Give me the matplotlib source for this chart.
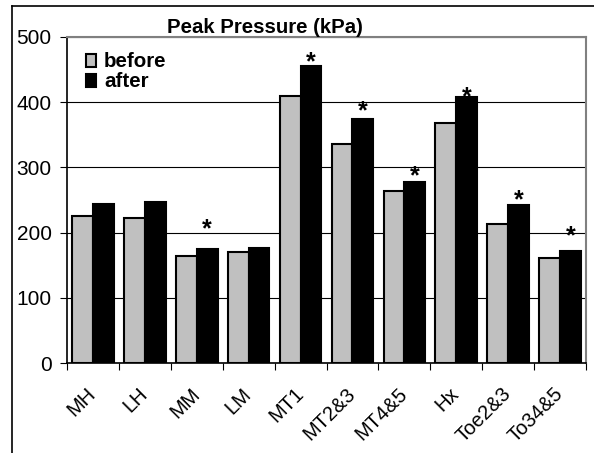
import numpy as np
import matplotlib
matplotlib.use("Agg")
import matplotlib.pyplot as plt
import matplotlib.transforms as mtransforms
from matplotlib.lines import Line2D

plt.rcParams['font.family'] = ['Liberation Sans', 'DejaVu Sans']

regions = ["MH", "LH", "MM", "LM", "MT1", "MT2&3", "MT4&5", "Hx", "Toe2&3", "To34&5"]
before = [226, 223, 165, 170, 409, 336, 264, 368, 214, 161]
after = [244, 247, 175, 176, 455, 374, 277, 407, 243, 172]
# asterisk marks (significant change) and their heights
signif = [False, False, True, False, True, True, True, True, True, True]
star_y = [0, 0, 205, 0, 461, 386, 286, 407, 249, 194]

fig = plt.figure(figsize=(5.94, 4.53), dpi=100)
ax = fig.add_axes([67/594, 1 - 363.3/453, 519/594, 326.6/453])

x = np.arange(len(regions))
w = 0.4
ax.bar(x - w/2, before, w, color='#c0c0c0', edgecolor='black', linewidth=1.5, label='before', zorder=3)
ax.bar(x + w/2, after, w, color='black', edgecolor='black', linewidth=1.5, label='after', zorder=3)

for i, s in enumerate(signif):
    if s:
        ax.text(x[i] + w/2, star_y[i], '*', ha='center', va='center',
                fontsize=18, fontweight='bold', zorder=4)

ax.set_xlim(-0.5, len(regions) - 0.5)
ax.set_ylim(0, 500)
ax.set_yticks([0, 100, 200, 300, 400, 500])
ax.yaxis.grid(True, color='black', linewidth=0.8, zorder=0)
ax.set_axisbelow(True)

ax.set_xticks(x)
ax.set_xticklabels(regions, rotation=45, ha='right', va='center', rotation_mode='anchor', fontsize=14.5)
shift = mtransforms.ScaledTranslation(-7/100, 0, fig.dpi_scale_trans)
for lbl in ax.get_xticklabels():
    lbl.set_transform(lbl.get_transform() + shift)
ax.set_xticks(np.arange(len(regions) + 1) - 0.5, minor=True)
ax.tick_params(axis='x', which='major', length=0, pad=20)
ax.tick_params(axis='x', which='minor', length=5, direction='out', width=0.8)
ax.tick_params(axis='y', length=5, direction='out', width=0.8, labelsize=15, pad=6)

for side in ['top', 'right']:
    ax.spines[side].set_color('#808080')
    ax.spines[side].set_linewidth(1.5)
for side in ['left', 'bottom']:
    ax.spines[side].set_color('black')
    ax.spines[side].set_linewidth(1.2)

ax.set_title('Peak Pressure (kPa)', fontsize=14.7, fontweight='bold', x=0.381, pad=3)

leg = ax.legend(loc='upper left', bbox_to_anchor=(0.036, 0.952), frameon=False,
                prop={'weight': 'bold', 'size': 14.8}, handlelength=0.5, handleheight=0.6,
                handletextpad=0.4, labelspacing=0.05, borderaxespad=0, borderpad=0)

# outer chart frame
fig.add_artist(Line2D([12/594, 12/594], [0, 1 - 6/453], color='black', linewidth=1.2, transform=fig.transFigure))
fig.add_artist(Line2D([12/594, 1], [1 - 6/453, 1 - 6/453], color='black', linewidth=1.2, transform=fig.transFigure))

fig.savefig('out.png', dpi=100)
